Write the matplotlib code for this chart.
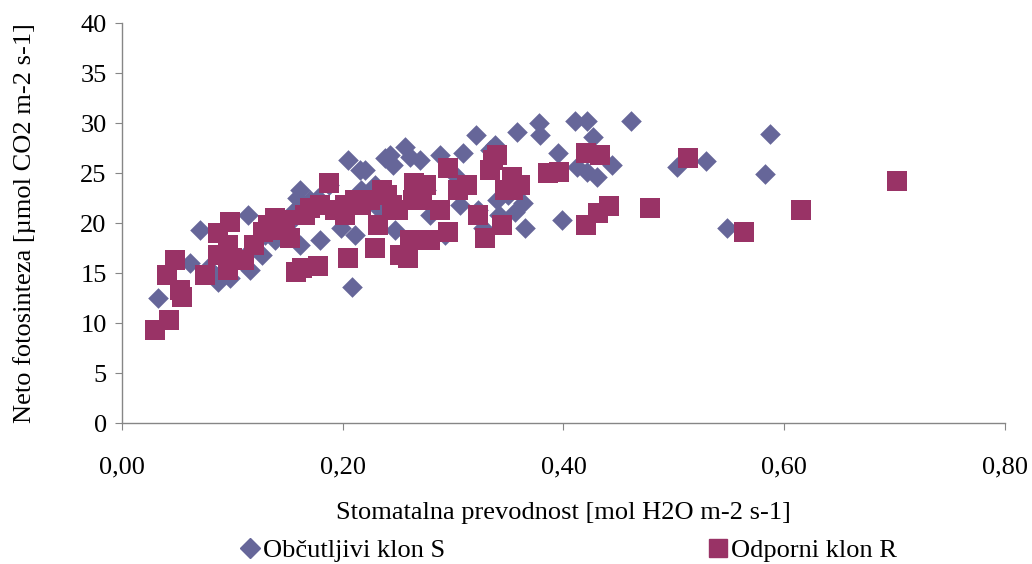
import matplotlib
matplotlib.use('Agg')
import matplotlib.pyplot as plt
from matplotlib.lines import Line2D

plt.rcParams['font.family'] = ['Liberation Serif', 'DejaVu Serif']

# Obcutljivi klon S: stomatalna prevodnost / neto fotosinteza
gs_S = [0.033, 0.071, 0.078, 0.084, 0.098, 0.114, 0.116, 0.111, 0.127, 0.139,
        0.148, 0.152, 0.157, 0.161, 0.159, 0.170, 0.178, 0.188, 0.196, 0.198,
        0.205, 0.208, 0.211, 0.217, 0.220, 0.229, 0.238, 0.243, 0.246, 0.247,
        0.256, 0.261, 0.270, 0.275, 0.288, 0.293, 0.302, 0.309, 0.321, 0.323,
        0.327, 0.333, 0.338, 0.340, 0.350, 0.358, 0.363, 0.365, 0.378, 0.379,
        0.395, 0.399, 0.410, 0.421, 0.412, 0.421, 0.427, 0.430, 0.444, 0.461,
        0.503, 0.529, 0.548, 0.583, 0.587, 0.087, 0.062, 0.216, 0.130, 0.179,
        0.161, 0.234, 0.279, 0.306, 0.342, 0.356]
pn_S = [12.5, 19.3, 15.5, 14.8, 14.5, 20.8, 15.3, 16.6, 16.8, 18.3,
        19.3, 20.1, 21.3, 23.3, 22.5, 22.3, 22.5, 23.8, 21.1, 19.5,
        26.3, 13.6, 18.8, 23.3, 25.3, 23.8, 26.5, 26.8, 25.8, 19.3,
        27.6, 26.6, 26.3, 23.3, 26.8, 18.8, 24.8, 27.0, 28.8, 21.3,
        19.5, 27.3, 27.8, 22.3, 22.8, 29.1, 22.0, 19.5, 30.0, 28.8,
        27.0, 20.3, 30.2, 30.2, 25.6, 25.1, 28.6, 24.6, 25.8, 30.2,
        25.6, 26.2, 19.5, 24.9, 28.9, 14.1, 16.0, 25.3, 18.8, 18.3,
        17.8, 21.3, 20.8, 21.8, 20.8, 21.1]

# Odporni klon R
gs_R = [0.030, 0.043, 0.041, 0.048, 0.053, 0.054, 0.075, 0.087, 0.087, 0.096,
        0.096, 0.098, 0.100, 0.111, 0.120, 0.128, 0.132, 0.139, 0.143, 0.148,
        0.152, 0.158, 0.163, 0.166, 0.170, 0.178, 0.179, 0.188, 0.193, 0.202,
        0.202, 0.205, 0.211, 0.217, 0.225, 0.229, 0.232, 0.236, 0.240, 0.245,
        0.250, 0.252, 0.259, 0.261, 0.264, 0.265, 0.272, 0.275, 0.279, 0.288,
        0.295, 0.295, 0.304, 0.313, 0.323, 0.329, 0.333, 0.336, 0.340, 0.344,
        0.347, 0.353, 0.354, 0.361, 0.386, 0.396, 0.420, 0.433, 0.420, 0.431,
        0.441, 0.478, 0.513, 0.564, 0.615, 0.702]
pn_R = [9.3, 10.3, 14.8, 16.3, 13.3, 12.6, 14.8, 19.0, 16.8, 17.8,
        15.3, 20.1, 16.5, 16.3, 17.8, 19.1, 19.8, 20.5, 19.3, 20.3,
        18.5, 15.1, 15.5, 20.8, 21.5, 15.7, 21.8, 24.0, 21.3, 21.8,
        20.8, 16.5, 22.3, 21.8, 22.3, 17.5, 19.8, 23.3, 22.8, 21.8,
        21.3, 16.8, 16.5, 18.3, 22.3, 24.0, 22.3, 23.8, 18.3, 21.3,
        25.5, 19.1, 23.3, 23.8, 20.8, 18.5, 25.3, 26.3, 26.8, 19.8,
        23.3, 24.6, 23.3, 23.8, 25.0, 25.1, 27.0, 26.8, 19.8, 21.0,
        21.7, 21.5, 26.5, 19.1, 21.3, 24.2]

x_ticks = [0.0, 0.2, 0.4, 0.6, 0.8]
x_ticklabels = ['0,00', '0,20', '0,40', '0,60', '0,80']
y_ticks = list(range(0, 41, 5))

COL_S = '#666699'
COL_R = '#993366'
GRID_GREY = '#868686'
FS = 19

fig = plt.figure(figsize=(10.32, 5.64), dpi=100)
ax = fig.add_axes([0.1182, 0.25, 0.8556, 0.7092])

ax.scatter(gs_S, pn_S, marker='D', s=10.5**2, color=COL_S, linewidths=0, zorder=3)
ax.scatter(gs_R, pn_R, marker='s', s=14**2, color=COL_R, linewidths=0, zorder=4)

ax.set_xlim(0, 0.8)
ax.set_ylim(0, 40)
ax.set_xticks(x_ticks)
ax.set_xticklabels(x_ticklabels)
ax.set_yticks(y_ticks)

for side in ('top', 'right'):
    ax.spines[side].set_visible(False)
for side in ('left', 'bottom'):
    ax.spines[side].set_color(GRID_GREY)
    ax.spines[side].set_linewidth(1.0)

ax.tick_params(axis='x', direction='out', length=5, color=GRID_GREY,
               labelsize=FS, pad=19)
ax.tick_params(axis='y', direction='out', length=5, color=GRID_GREY,
               labelsize=FS, pad=6)

ax.set_xlabel('Stomatalna prevodnost [mol H2O m-2 s-1]', fontsize=FS, labelpad=17)
ax.set_ylabel('Neto fotosinteza [µmol CO2 m-2 s-1]', fontsize=FS, labelpad=32)

handles = [
    Line2D([], [], marker='D', linestyle='none', color=COL_S, markersize=10, label='Občutljivi klon S'),
    Line2D([], [], marker='s', linestyle='none', color=COL_R, markersize=13, label='Odporni klon R'),
]
fig.legend(handles=handles, loc='lower left', bbox_to_anchor=(0.21, -0.039), ncol=2,
           frameon=False, fontsize=FS, handlelength=0.7, handletextpad=0.15,
           columnspacing=10.0)

fig.savefig('out.png', dpi=100)
